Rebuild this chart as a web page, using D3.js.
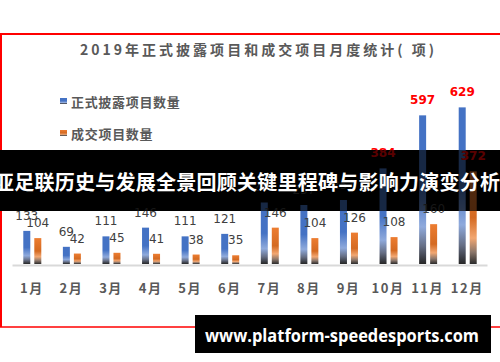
<!DOCTYPE html>
<html>
<head>
<meta charset="utf-8">
<script src="https://cdn.jsdelivr.net/npm/d3@7"></script>
<style>
  html, body { margin: 0; padding: 0; background: #fff; }
  svg { display: block; }
  .cjk { font-family: "Noto Sans CJK SC", sans-serif; }
</style>
</head>
<body>
<div class="container"></div>
<script>
const WIDTH = 500,
      HEIGHT = 362,
      BASE_Y = 264,
      HIGHLIGHT = 300;

// chart data
var months = ['1月', '2月', '3月', '4月', '5月', '6月', '7月', '8月', '9月', '10月', '11月', '12月'];
var seriesNames = ['正式披露项目数量', '成交项目数量'];
var disclosedCounts = [133, 69, 111, 146, 111, 121, 247, 237, 257, 384, 597, 629];
var dealCounts = [104, 42, 45, 41, 38, 35, 146, 104, 126, 108, 160, 372];
var titleText = '2019年正式披露项目和成交项目月度统计( 项)';
var bannerText = '亚足联历史与发展全景回顾关键里程碑与影响力演变分析';
var footerText = 'www.platform-speedesports.com';

var rows = months.map(function(m, i) {
  return { month: m, values: [disclosedCounts[i], dealCounts[i]] };
});

var x0 = d3.scaleBand().domain(months).range([12, 487]);
var x1 = d3.scaleBand().domain([0, 1]).range([0, 18]).paddingInner(0.364);
var y = d3.scaleLinear().domain([0, 700]).range([BASE_Y, BASE_Y - 174.3]);

var svg = d3.select('.container').append('svg')
    .attr('width', WIDTH).attr('height', HEIGHT);

// gradients for the bars
var defs = svg.append('defs');
var gradStops = [
  [[0, '#4472c4'], [0.5, '#4472c4'], [0.75, '#8faadc'], [0.88, '#666f86'], [1, '#262626']],
  [[0, '#ed7d31'], [0.5, '#d46a22'], [0.72, '#f2a772'], [0.87, '#8c776b'], [1, '#2b2b2b']]
];
gradStops.forEach(function(stops, i) {
  var g = defs.append('linearGradient').attr('id', 'grad' + i)
      .attr('x1', 0).attr('y1', 0).attr('x2', 0).attr('y2', 1);
  stops.forEach(function(s) {
    g.append('stop').attr('offset', s[0]).attr('stop-color', s[1]);
  });
});

// red frame
svg.append('line').attr('x1', 0).attr('x2', WIDTH).attr('y1', 34).attr('y2', 34)
    .attr('stroke', '#ff0000').attr('stroke-width', 2);
svg.append('line').attr('x1', 1).attr('x2', 1).attr('y1', 33).attr('y2', 327)
    .attr('stroke', '#ff0000').attr('stroke-width', 2);
svg.append('line').attr('x1', 0).attr('x2', WIDTH).attr('y1', 327).attr('y2', 327)
    .attr('stroke', '#ff0000').attr('stroke-width', 1.5);

// title
svg.append('text').attr('class', 'cjk')
    .attr('x', 80).attr('y', 55)
    .attr('textLength', 354).attr('lengthAdjust', 'spacing')
    .attr('font-size', 14).attr('font-weight', 'bold').attr('fill', '#595959')
    .text(titleText);

// legend
var legend = svg.append('g').selectAll('g').data(seriesNames).join('g')
    .attr('transform', function(d, i) { return 'translate(60,' + (98 + i * 32) + ')'; });
legend.append('rect').attr('width', 7).attr('height', 6)
    .attr('fill', function(d, i) { return 'url(#grad' + i + ')'; });
legend.append('text').attr('class', 'cjk')
    .attr('x', 11).attr('y', 9)
    .attr('textLength', function(d) { return d.length * 13.6; })
    .attr('lengthAdjust', 'spacing')
    .attr('font-size', 13).attr('font-weight', 'bold').attr('fill', '#595959')
    .text(function(d) { return d; });

// black banner underneath the marks
svg.append('rect').attr('x', 0).attr('y', 150).attr('width', WIDTH).attr('height', 61)
    .attr('fill', '#000');

// axis
var axis = svg.append('g')
    .attr('transform', 'translate(0,' + (BASE_Y + 1) + ')')
    .call(d3.axisBottom(x0).tickSize(0).tickSizeOuter(0).tickPadding(19));
axis.select('.domain').attr('stroke', '#d9d9d9').attr('stroke-width', 2);
axis.selectAll('text').attr('class', 'cjk')
    .attr('font-size', 13).attr('font-weight', 'bold').attr('fill', '#595959')
    .attr('letter-spacing', 1.5);

// bars
var groups = svg.append('g').selectAll('g').data(rows).join('g')
    .attr('transform', function(d) { return 'translate(' + (x0(d.month) + x0.bandwidth() / 2 - 8.5) + ',0)'; });

groups.selectAll('rect').data(function(d) { return d.values; }).join('rect')
    .attr('x', function(d, i) { return x1(i); })
    .attr('width', x1.bandwidth())
    .attr('y', function(d) { return y(d); })
    .attr('height', function(d) { return BASE_Y - y(d); })
    .attr('fill', function(d, i) { return 'url(#grad' + i + ')'; });

// value labels
groups.selectAll('text').data(function(d) { return d.values; }).join('text')
    .attr('x', function(d, i) { return x1(i) + x1.bandwidth() / 2; })
    .attr('y', function(d) { return y(d) - 11; })
    .attr('text-anchor', 'middle')
    .attr('font-family', 'DejaVu Sans, sans-serif')
    .attr('font-size', 12)
    .attr('font-weight', function(d) { return d > HIGHLIGHT ? 'bold' : 'normal'; })
    .attr('fill', function(d) { return d > HIGHLIGHT ? '#ff0000' : '#404040'; })
    .text(function(d) { return d; });

// dim the marks that pass under the banner
svg.append('rect').attr('x', 0).attr('y', 150).attr('width', WIDTH).attr('height', 61)
    .attr('fill', '#000').attr('opacity', 0.65);

svg.append('text').attr('class', 'cjk')
    .attr('x', 247).attr('y', 189.5)
    .attr('text-anchor', 'middle')
    .attr('textLength', 506).attr('lengthAdjust', 'spacing')
    .attr('font-size', 20).attr('font-weight', 'bold').attr('fill', '#fff')
    .text(bannerText);

// footer
svg.append('rect').attr('x', 195).attr('y', 315).attr('width', 296).attr('height', 38)
    .attr('fill', '#000');
svg.append('text')
    .attr('x', 205).attr('y', 342)
    .attr('textLength', 274).attr('lengthAdjust', 'spacingAndGlyphs')
    .attr('font-family', 'Open Sans, sans-serif')
    .attr('font-size', 17).attr('font-weight', 'bold').attr('fill', '#fff')
    .text(footerText);
</script>
</body>
</html>
